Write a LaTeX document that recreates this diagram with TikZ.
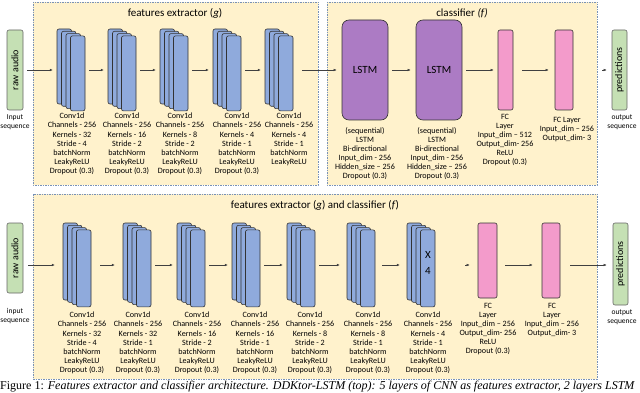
\documentclass[tikz,border=0pt]{standalone}
\usepackage{fontspec}
\setmainfont{Carlito}
\newfontfamily\capfont{Liberation Serif}
\usepackage{tikz}
\usetikzlibrary{arrows.meta, positioning}
\definecolor{archpanel}{RGB}{255, 242, 204}
\definecolor{archdash}{RGB}{120, 146, 184}
\definecolor{archgreen}{RGB}{197, 224, 180}
\definecolor{archblue}{RGB}{143, 170, 220}
\definecolor{archpurple}{RGB}{172, 123, 196}
\definecolor{archpink}{RGB}{243, 155, 203}

\tikzset{
  panel/.style={fill=archpanel, draw=archdash, line width=0.7pt, dash pattern=on 1.5pt off 1pt},
  iobox/.style={draw=black!60, fill=archgreen, rounded corners=2pt, line width=0.6pt, minimum width=16pt, inner sep=0pt},
  convlayer/.style={draw=black!80, fill=archblue, rounded corners=2pt, line width=0.6pt},
  stackbox/.style={inner sep=0pt, minimum width=28pt},
  lstmbox/.style={draw=black!80, fill=archpurple, rounded corners=7pt, line width=0.6pt, minimum width=46pt, minimum height=100pt, font=\fontsize{11}{13}\selectfont},
  fcbox/.style={draw=black!80, fill=archpink, rounded corners=2pt, line width=0.6pt, inner sep=0pt},
  lbl/.style={anchor=north, align=center, inner sep=0pt, font=\fontsize{8.1}{9.1}\selectfont},
  small/.style={align=center, inner sep=0pt, font=\fontsize{7.5}{9}\selectfont},
  vtext/.style={rotate=90, font=\fontsize{10}{11}\selectfont},
  ttl/.style={inner sep=0pt, font=\fontsize{11}{13}\selectfont},
  arr/.style={-{Latex[length=3pt,width=2.6pt]}, draw=black!75, line width=0.5pt, shorten <=4pt, shorten >=4pt}
}

% stack of four Conv1d layers: name, left x, top y, layer height
\newcommand{\convstack}[4]{%
  \foreach \i in {0,...,3}
    \draw[convlayer] ({#2+4.5*\i},{#3+2.3*\i}) rectangle ++(14.5,#4);
  \node[stackbox, minimum height={#4pt+7pt}] (#1) at ({#2+14},{#3+(#4+7)/2}) {};
}

\begin{document}
\begin{tikzpicture}[x=1pt, y=-1pt]
  \useasboundingbox (0,0) rectangle (640,393);

  % top: DDKtor-LSTM
  \draw[panel] (33,2) rectangle (318,185);
  \draw[panel] (327,2) rectangle (597,185);
  \node[ttl] (titleA) at (175,13) {features extractor (\textit{g})};
  \node[ttl] (titleB) at (462,13) {classifier \textit{(f)}};

  \node[iobox, minimum height=80pt] (rawA) at (15,70) {};
  \node[vtext] at (rawA) {raw audio};
  \node[small] (inA) at (15,122) {Input\\sequence};

  \convstack{cA1}{57}{29}{75}
  \convstack{cA2}{108}{29}{75}
  \convstack{cA3}{160}{29}{75}
  \convstack{cA4}{213}{29}{75}
  \convstack{cA5}{265}{29}{75}

  \node[lbl] (tA1) at (72,113) {Conv1d\\Channels - 256\\Kernels - 32\\Stride - 4\\batchNorm\\LeakyReLU\\Dropout (0.3)};
  \node[lbl] (tA2) at (127,113) {Conv1d\\Channels - 256\\Kernels - 16\\Stride - 2\\batchNorm\\LeakyReLU\\Dropout (0.3)};
  \node[lbl] (tA3) at (180,113) {Conv1d\\Channels - 256\\Kernels - 8\\Stride - 2\\batchNorm\\LeakyReLU\\Dropout (0.3)};
  \node[lbl] (tA4) at (237,113) {Conv1d\\Channels - 256\\Kernels - 4\\Stride - 1\\batchNorm\\LeakyReLU\\Dropout (0.3)};
  \node[lbl] (tA5) at (289,113) {Conv1d\\Channels - 256\\Kernels - 4\\Stride - 1\\batchNorm\\LeakyReLU};

  \node[lstmbox] (lstmA) at (365,70) {LSTM};
  \node[lstmbox] (lstmB) at (439,70) {LSTM};
  \node[lbl] (tL1) at (365,127) {(sequential)\\LSTM\\Bi-directional\\Input\_dim - 256\\Hidden\_size -- 256\\Dropout (0.3)};
  \node[lbl] (tL2) at (437,127) {(sequential)\\LSTM\\Bi-directional\\Input\_dim - 256\\Hidden\_size -- 256\\Dropout (0.3)};

  \node[fcbox, minimum width=15pt, minimum height=80pt] (fcA1) at (505.5,70) {};
  \node[fcbox, minimum width=18pt, minimum height=80pt] (fcA2) at (564,70) {};
  \node[lbl] (tF1) at (505,114) {FC\\Layer\\Input\_dim -- 512\\Output\_dim- 256\\ReLU\\Dropout (0.3)};
  \node[lbl] (tF2) at (567,117) {FC Layer\\Input\_dim -- 256\\Output\_dim- 3};

  \node[iobox, minimum width=15pt, minimum height=80pt] (predA) at (619.5,70) {};
  \node[vtext] at (predA) {predictions};
  \node[small] (outA) at (622,122) {output\\sequence};

  \draw[arr] (rawA) -- (cA1);
  \draw[arr] (cA1) -- (cA2);
  \draw[arr] (cA2) -- (cA3);
  \draw[arr] (cA3) -- (cA4);
  \draw[arr] (cA4) -- (cA5);
  \draw[arr, shorten <=9pt, shorten >=5pt] (cA5) -- (lstmA);
  \draw[arr, shorten >=5pt] (lstmA) -- (lstmB);
  \draw[arr] (lstmB) -- (fcA1);
  \draw[arr, shorten <=9pt, shorten >=6pt] (fcA1) -- (fcA2);
  \draw[arr, shorten <=29pt, shorten >=5pt] (fcA2) -- (predA);

  % bottom: CNN only
  \draw[panel] (33,194) rectangle (597,379);
  \node[ttl] (titleC) at (315,205) {features extractor (\textit{g}) and classifier (\textit{f})};

  \node[iobox, minimum height=70pt] (rawB) at (15,258) {};
  \node[vtext] at (rawB) {raw audio};
  \node[small] (inB) at (15,316) {input\\sequence};

  \convstack{cB1}{63}{223}{77}
  \convstack{cB2}{123}{223}{77}
  \convstack{cB3}{177}{223}{77}
  \convstack{cB4}{232}{223}{77}
  \convstack{cB5}{287}{223}{77}
  \convstack{cB6}{347}{223}{77}
  \convstack{cB7}{407}{223}{77}
  \node[align=center, inner sep=0pt, font=\fontsize{11}{16}\selectfont] (rep) at (428,263) {X\\4};

  \node[lbl] (tB1) at (82,312) {Conv1d\\Channels - 256\\Kernels - 32\\Stride - 4\\batchNorm\\LeakyReLU\\Dropout (0.3)};
  \node[lbl] (tB2) at (138,312) {Conv1d\\Channels - 256\\Kernels - 32\\Stride - 1\\batchNorm\\LeakyReLU\\Dropout (0.3)};
  \node[lbl] (tB3) at (197,312) {Conv1d\\Channels - 256\\Kernels - 16\\Stride - 2\\batchNorm\\LeakyReLU\\Dropout (0.3)};
  \node[lbl] (tB4) at (255,312) {Conv1d\\Channels - 256\\Kernels - 16\\Stride - 1\\batchNorm\\LeakyReLU\\Dropout (0.3)};
  \node[lbl] (tB5) at (310,312) {Conv1d\\Channels - 256\\Kernels - 8\\Stride - 2\\batchNorm\\LeakyReLU\\Dropout (0.3)};
  \node[lbl] (tB6) at (368,312) {Conv1d\\Channels - 256\\Kernels - 8\\Stride - 1\\batchNorm\\LeakyReLU\\Dropout (0.3)};
  \node[lbl] (tB7) at (428,312) {Conv1d\\Channels - 256\\Kernels - 4\\Stride - 1\\batchNorm\\LeakyReLU\\Dropout (0.3)};

  \node[fcbox, minimum width=19pt, minimum height=75pt] (fcB1) at (487.5,260.5) {};
  \node[fcbox, minimum width=18pt, minimum height=75pt] (fcB2) at (551,260.5) {};
  \node[lbl] (tF3) at (488,303) {FC\\Layer\\Input\_dim -- 256\\Output\_dim- 256\\ReLU\\Dropout (0.3)};
  \node[lbl] (tF4) at (552,303) {FC\\Layer\\Input\_dim -- 256\\Output\_dim- 3};

  \node[iobox, minimum width=15pt, minimum height=82pt] (predB) at (620.5,264) {};
  \node[vtext] at (predB) {predictions};
  \node[small] (outB) at (622,317) {output\\sequence};

  \draw[arr, shorten <=5pt, shorten >=8pt] (rawB.east |- cB1) -- (cB1);
  \draw[arr, shorten <=9pt, shorten >=8pt] (cB1) -- (cB2);
  \draw[arr] (cB2) -- (cB3);
  \draw[arr] (cB3) -- (cB4);
  \draw[arr] (cB4) -- (cB5);
  \draw[arr, shorten >=7pt] (cB5) -- (cB6);
  \draw[arr, shorten <=7pt, shorten >=7pt] (cB6) -- (cB7);
  \draw[arr, shorten <=30pt, shorten >=8pt] (cB7) -- (fcB1.west |- cB7);
  \draw[arr, shorten <=8pt, shorten >=9pt] (fcB1.east |- cB7) -- (fcB2.west |- cB7);
  \draw[arr, shorten <=10pt, shorten >=6pt] (fcB2.east |- cB7) -- (predB.west |- cB7);

  % caption
  \node[anchor=base west, inner sep=0pt, font=\capfont\fontsize{12}{14}\selectfont] (cap) at (0,389)
    {Figure 1: \textit{Features extractor and classifier architecture. DDKtor-LSTM (top): 5 layers of CNN as features extractor, 2 layers LSTM}};
\end{tikzpicture}
\end{document}
